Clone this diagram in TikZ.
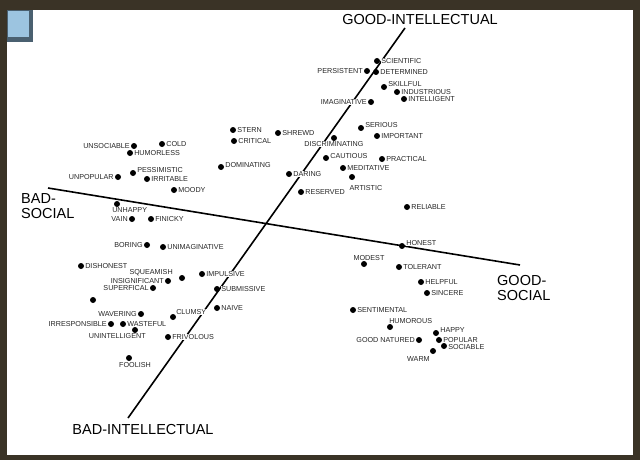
\documentclass[tikz,border=0pt]{standalone}
\usepackage{fontspec}
\setmainfont{Liberation Sans}
\begin{document}
\begin{tikzpicture}[x=1pt,y=-1pt,
  dot/.style={circle,fill=black,inner sep=0pt,minimum size=6pt},
  lab/.style={font=\fontsize{7.2}{7.5}\selectfont,inner sep=0.6pt,fill=white,text=black!85},
  every label/.style={lab},
  label distance=0.3pt,
  axis/.style={line width=1.6pt},
  ax/.style={font=\fontsize{14.5}{15}\selectfont,align=left,inner sep=1pt}]
\useasboundingbox (0,0) rectangle (640,460);
\fill[fill={rgb,255:red,58;green,51;blue,38}] (0,0) rectangle (640,460);
\fill[white] (7,10) rectangle (633,455);
\fill[fill={rgb,255:red,74;green,96;blue,112}] (7,10) rectangle (33,42);
\fill[fill={rgb,255:red,156;green,196;blue,224}] (8,11) rectangle (29,37);
% axes
\coordinate (it) at (405,28); \coordinate (ib) at (128,418);
\coordinate (sl) at (48,188); \coordinate (sr) at (520,265);
\draw[axis] (it) -- (ib);
\draw[axis] (sl) -- (sr);
\node[ax] (gi) at (420,20) {GOOD-INTELLECTUAL};
\node[ax] (bi) at (143,430) {BAD-INTELLECTUAL};
\node[ax,anchor=west] (bs) at (20,206) {BAD-\\SOCIAL};
\node[ax,anchor=west] (gs) at (496,288) {GOOD-\\SOCIAL};
% bad-social / bad-intellectual-ish
\node[dot,label=left:UNSOCIABLE] (a1) at (134,146) {};
\node[dot,label=right:COLD] (a2) at (162,144) {};
\node[dot,label=right:HUMORLESS] (a3) at (130,153) {};
\node[dot,label={[yshift=3pt]right:PESSIMISTIC}] (a4) at (133,173) {};
\node[dot,label=left:UNPOPULAR] (a5) at (118,177) {};
\node[dot,label=right:IRRITABLE] (a6) at (147,179) {};
\node[dot,label=right:MOODY] (a7) at (174,190) {};
\node[dot,label={[xshift=-8pt]below right:UNHAPPY}] (a8) at (117,204) {};
\node[dot,label=left:VAIN] (a9) at (132,219) {};
\node[dot,label=right:FINICKY] (a10) at (151,219) {};
\node[dot,label=right:STERN] (a11) at (233,130) {};
\node[dot,label=right:CRITICAL] (a12) at (234,141) {};
\node[dot,label=right:SHREWD] (a13) at (278,133) {};
\node[dot,label={[yshift=2pt]right:DOMINATING}] (a14) at (221,167) {};
\node[dot,label=right:DARING] (a15) at (289,174) {};
\node[dot,label=left:BORING] (a16) at (147,245) {};
\node[dot,label=right:UNIMAGINATIVE] (a17) at (163,247) {};
\node[dot,label=right:DISHONEST] (b1) at (81,266) {};
\node[dot,label={[xshift=-6pt,yshift=-1pt]above left:SQUEAMISH}] (b2) at (182,278) {};
\node[dot,label=left:INSIGNIFICANT] (b3) at (168,281) {};
\node[dot,label=right:IMPULSIVE] (b4) at (202,274) {};
\node[dot,label=left:SUPERFICAL] (b5) at (153,288) {};
\node[dot,label=right:SUBMISSIVE] (b6) at (217,289) {};
\node[dot] (b7) at (93,300) {};
\node[dot,label=left:WAVERING] (b8) at (141,314) {};
\node[dot,label={[yshift=-1pt]above right:CLUMSY}] (b9) at (173,317) {};
\node[dot,label=right:NAIVE] (b10) at (217,308) {};
\node[dot,label=left:IRRESPONSIBLE] (b11) at (111,324) {};
\node[dot,label=right:WASTEFUL] (b12) at (123,324) {};
\node[dot,label={[xshift=14pt]below left:UNINTELLIGENT}] (b13) at (135,330) {};
\node[dot,label=right:FRIVOLOUS] (b14) at (168,337) {};
\node[dot,label={[xshift=6pt]below:FOOLISH}] (b15) at (129,358) {};
% good-intellectual
\node[dot,label=right:SCIENTIFIC] (c1) at (377,61) {};
\node[dot,label=left:PERSISTENT] (c2) at (367,71) {};
\node[dot,label=right:DETERMINED] (c3) at (376,72) {};
\node[dot,label={[yshift=3pt]right:SKILLFUL}] (c4) at (384,87) {};
\node[dot,label=right:INDUSTRIOUS] (c5) at (397,92) {};
\node[dot,label=right:INTELLIGENT] (c6) at (404,99) {};
\node[dot,label=left:IMAGINATIVE] (c7) at (371,102) {};
\node[dot,label={[yshift=3pt]right:SERIOUS}] (c8) at (361,128) {};
\node[dot,label=right:IMPORTANT] (c9) at (377,136) {};
\node[dot,label={[yshift=1pt]below:DISCRIMINATING}] (c10) at (334,138) {};
\node[dot,label={[yshift=2pt]right:CAUTIOUS}] (c11) at (326,158) {};
\node[dot,label=right:PRACTICAL] (c12) at (382,159) {};
\node[dot,label=right:MEDITATIVE] (c13) at (343,168) {};
\node[dot,label={[xshift=14pt,yshift=-4pt]below:ARTISTIC}] (c14) at (352,177) {};
\node[dot,label=right:RESERVED] (c15) at (301,192) {};
\node[dot,label=right:RELIABLE] (c16) at (407,207) {};
% good-social
\node[dot,label={[yshift=3pt]right:HONEST}] (d1) at (402,246) {};
\node[dot,label={[xshift=5pt,yshift=-1pt]above:MODEST}] (d2) at (364,264) {};
\node[dot,label=right:TOLERANT] (d3) at (399,267) {};
\node[dot,label=right:HELPFUL] (d4) at (421,282) {};
\node[dot,label=right:SINCERE] (d5) at (427,293) {};
\node[dot,label=right:SENTIMENTAL] (d6) at (353,310) {};
\node[dot,label={[xshift=-4pt]above right:HUMOROUS}] (d7) at (390,327) {};
\node[dot,label={[yshift=3pt]right:HAPPY}] (d8) at (436,333) {};
\node[dot,label=left:GOOD NATURED] (d9) at (419,340) {};
\node[dot,label=right:POPULAR] (d10) at (439,340) {};
\node[dot,label={[yshift=-1pt]right:SOCIABLE}] (d11) at (444,346) {};
\node[dot,label={[yshift=-2pt]below left:WARM}] (d12) at (433,351) {};
\end{tikzpicture}
\end{document}
